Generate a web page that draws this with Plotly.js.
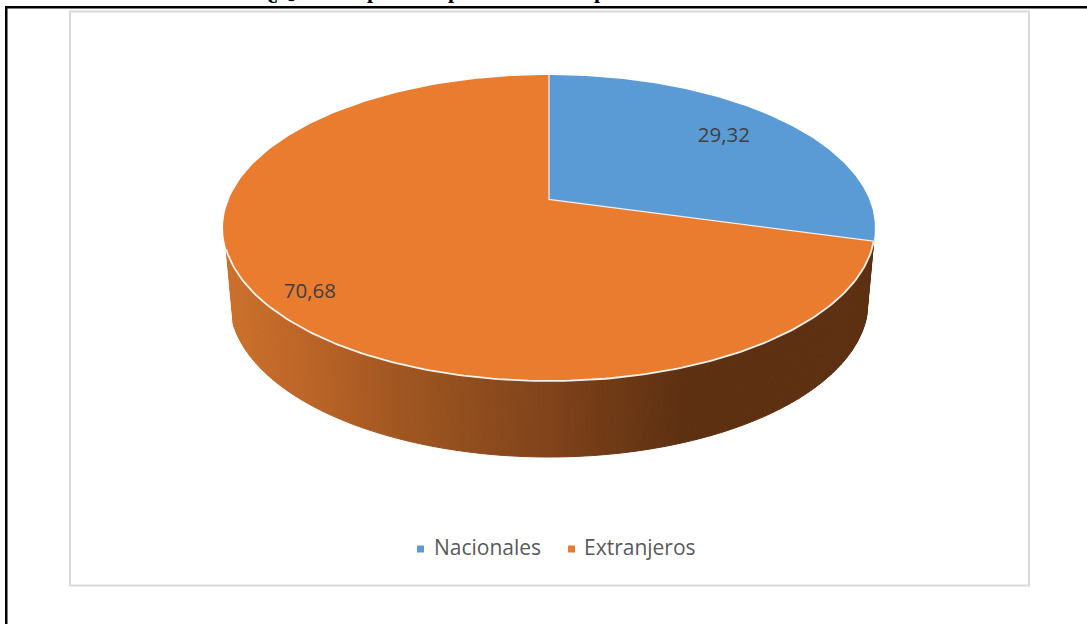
<!DOCTYPE html>
<html lang="es">
<head>
<meta charset="utf-8">
<title>Nacionales y Extranjeros</title>
<script src="https://cdn.plot.ly/plotly-3.0.1.min.js"></script>
<style>
  html, body { margin: 0; padding: 0; background: #fff; overflow: hidden; }
  #chart { width: 1087px; height: 624px; }
</style>
</head>
<body>
<div id="chart"></div>
<script>
// Chart data
const categories = ['Nacionales', 'Extranjeros'];
const shares = [29.32, 70.68];
const shareLabels = ['29,32', '70,68'];
const sliceColors = ['#5B9BD5', '#EA7C30'];
const headingWords = ['¿Qué', 'parte', 'procede', 'por'];

// Tilted-disc projection, in page pixels
const DISC = { cx: 549, cy: 228, rx: 326, ry: 153, apexY: 199.5, k: 0.1863, a: -110.53, A: 320.3 };
const BASE = { cx: 549, cy: 302, rx: 319, ry: 155 };

// Maps a point of the flat pie (theta clockwise from 12 o'clock, r in 0..1) to the page
function project(theta, r) {
  const u = r * Math.sin(theta), v = r * Math.cos(theta);
  const d = 1 + DISC.k * v;
  return [DISC.cx + DISC.A * u / d, (DISC.apexY + DISC.a * v) / d];
}
const onEllipse = (e, psi) => [e.cx + e.rx * Math.sin(psi), e.cy - e.ry * Math.cos(psi)];
const total = shares.reduce((s, v) => s + v, 0);
const toAngle = v => v / total * 2 * Math.PI;
const rad = d => d * Math.PI / 180;

const traces = [];
const blank = { hoverinfo: 'skip', showlegend: false, cliponaxis: false };

// Side wall: narrow strips shaded from the lit left side to the dark right side
const wallStops = [[225, [204, 113, 44]], [300, [190, 102, 40]], [400, [160, 86, 33]],
                   [550, [128, 67, 26]], [680, [94, 48, 18]], [880, [94, 48, 18]]];
function wallColor(x) {
  for (let i = 1; i < wallStops.length; i++) {
    const [x0, c0] = wallStops[i - 1], [x1, c1] = wallStops[i];
    if (x <= x1) {
      const t = Math.max(0, (x - x0) / (x1 - x0));
      return 'rgb(' + c0.map((c, j) => Math.round(c + (c1[j] - c) * t)).join(',') + ')';
    }
  }
  return 'rgb(94,48,18)';
}
const blueEnd = project(toAngle(shares[0]), 1);
const psiStart = Math.atan2((blueEnd[0] - DISC.cx) / DISC.rx, (DISC.cy - blueEnd[1]) / DISC.ry);
const psiEnd = rad(262);
const STRIPS = 240;
for (let i = 0; i < STRIPS; i++) {
  const p0 = psiStart + (psiEnd - psiStart) * i / STRIPS;
  const p1 = psiStart + (psiEnd - psiStart) * (i + 1) / STRIPS;
  const a = onEllipse(DISC, p0), b = onEllipse(DISC, p1), c = onEllipse(BASE, p1), d = onEllipse(BASE, p0);
  const col = wallColor((a[0] + b[0] + c[0] + d[0]) / 4);
  traces.push(Object.assign({
    type: 'scatter', mode: 'lines', fill: 'toself', fillcolor: col,
    x: [a[0], b[0], c[0], d[0], a[0]], y: [a[1], b[1], c[1], d[1], a[1]],
    line: { color: col, width: 1 }
  }, blank));
}

// Top faces of the two slices, built from the shares
let start = 0;
shares.forEach((v, i) => {
  const span = toAngle(v), xs = [DISC.cx], ys = [DISC.apexY], steps = 160;
  for (let s = 0; s <= steps; s++) {
    const p = project(start + span * s / steps, 1);
    xs.push(p[0]); ys.push(p[1]);
  }
  xs.push(DISC.cx); ys.push(DISC.apexY);
  traces.push(Object.assign({
    type: 'scatter', mode: 'lines', fill: 'toself', fillcolor: sliceColors[i],
    x: xs, y: ys, line: { width: 0, color: sliceColors[i] }, name: categories[i]
  }, blank));
  start += span;
});

// Pale rim along the front edge and the dividers between the slices
const rimX = [], rimY = [];
for (let s = 0; s <= 160; s++) {
  const p = onEllipse(DISC, psiStart + (psiEnd - psiStart) * s / 160);
  rimX.push(p[0]); rimY.push(p[1]);
}
traces.push(Object.assign({ type: 'scatter', mode: 'lines', x: rimX, y: rimY,
  line: { color: 'rgba(255,255,255,0.92)', width: 1.8 } }, blank));
const discTop = project(0, 1);
traces.push(Object.assign({ type: 'scatter', mode: 'lines',
  x: [discTop[0], DISC.cx, blueEnd[0]], y: [discTop[1], DISC.apexY, blueEnd[1]],
  line: { color: 'rgba(255,255,255,0.8)', width: 1.3 } }, blank));

// Value labels sit on each slice, near its middle angle
const labelRadius = [0.761, 0.87];
const labelTurn = [-1.4, -2.5];
const LABEL_DROP = 2;
let acc = 0;
const labelPts = shares.map((v, i) => {
  const mid = acc + toAngle(v) / 2 + rad(labelTurn[i]);
  acc += toAngle(v);
  return project(mid, labelRadius[i]);
});
traces.push(Object.assign({
  type: 'scatter', mode: 'text', x: labelPts.map(p => p[0]), y: labelPts.map(p => p[1] + LABEL_DROP),
  text: shareLabels, textposition: 'middle center',
  textfont: { family: '"Open Sans", sans-serif', size: 20.5, color: '#404040' }
}, blank));

// Key under the pie
const keySwatchX = [420.5, 571.5], keyTextX = [434, 584], KEY_Y = 549.5;
traces.push(Object.assign({
  type: 'scatter', mode: 'markers', x: keySwatchX, y: [KEY_Y - 0.5, KEY_Y - 0.5],
  marker: { symbol: 'square', size: 7, color: sliceColors, line: { width: 0 } }
}, blank));
traces.push(Object.assign({
  type: 'scatter', mode: 'text', x: keyTextX, y: [KEY_Y, KEY_Y], text: categories,
  textposition: 'middle right',
  textfont: { family: '"Open Sans", sans-serif', size: 21, color: '#595959' }
}, blank));

// Heading cut off by the top of the page, with only its descenders showing
const headingAnchors = [266, 366, 447, 593];
const annotations = headingWords.map((w, i) => ({
  xref: 'x', yref: 'y', x: headingAnchors[i], y: 3.5, xanchor: 'left', yanchor: 'bottom',
  text: '<b>' + w + '</b>', showarrow: false, borderpad: 0,
  font: { family: '"Liberation Serif", serif', size: 22, color: '#000' }
}));

const shapes = [
  // Outer document frame: left and top rules only
  { type: 'rect', xref: 'x', yref: 'y', x0: 5, x1: 7.5, y0: 6, y1: 624, fillcolor: '#000', line: { width: 0 }, layer: 'below' },
  { type: 'rect', xref: 'x', yref: 'y', x0: 5, x1: 1087, y0: 6, y1: 8.5, fillcolor: '#000', line: { width: 0 }, layer: 'below' },
  // Chart area border
  { type: 'rect', xref: 'x', yref: 'y', x0: 70, x1: 1029, y0: 11.5, y1: 585.5, fillcolor: 'rgba(0,0,0,0)', line: { color: '#D9D9D9', width: 2 }, layer: 'below' }
];

const layout = {
  width: 1087, height: 624, margin: { l: 0, r: 0, t: 0, b: 0 },
  paper_bgcolor: '#fff', plot_bgcolor: '#fff', showlegend: false,
  xaxis: { range: [0, 1087], visible: false, fixedrange: true },
  yaxis: { range: [624, 0], visible: false, fixedrange: true },
  shapes, annotations
};
Plotly.newPlot('chart', traces, layout, { displayModeBar: false, staticPlot: true });
</script>
</body>
</html>
